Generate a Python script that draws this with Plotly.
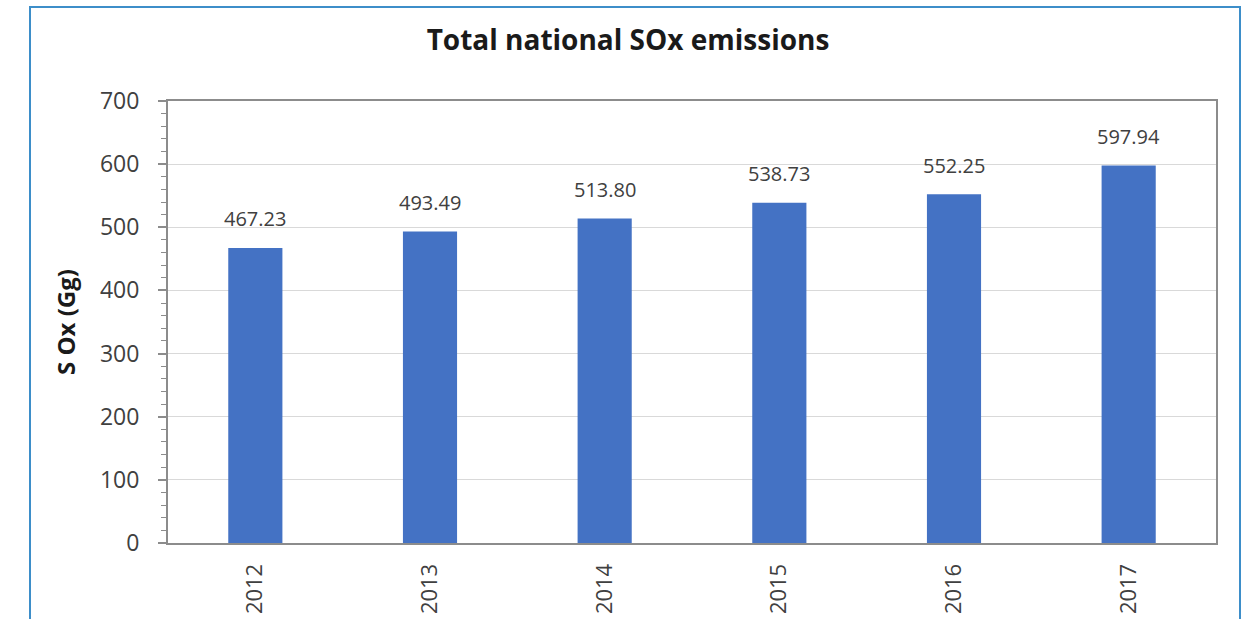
import plotly.graph_objects as go

# Annual totals of SOx emissions (Gg)
years = ["2012", "2013", "2014", "2015", "2016", "2017"]
sox_gg = [467.23, 493.49, 513.80, 538.73, 552.25, 597.94]
y_ticks = [0, 100, 200, 300, 400, 500, 600, 700]

text_color = "#404040"
sans = "Open Sans, Liberation Sans, sans-serif"

fig = go.Figure(
    go.Bar(
        x=years,
        y=sox_gg,
        width=0.31,
        marker=dict(color="#4472C4", line=dict(width=0)),
        hoverinfo="x+y",
    )
)

# value labels floating above each bar (category axis: position by index)
for i, v in enumerate(sox_gg):
    fig.add_annotation(
        x=i,
        y=v,
        text=f"{v:.2f}",
        showarrow=False,
        yanchor="middle",
        yshift=29,
        font=dict(family=sans, size=20, color=text_color),
    )

fig.update_layout(
    width=1256,
    height=619,
    margin=dict(l=168, r=40, t=101, b=76),
    paper_bgcolor="white",
    plot_bgcolor="white",
    showlegend=False,
    title=dict(
        text="<b>Total national SOx emissions</b>",
        x=(628 - 168) / 1048,
        xref="paper",
        xanchor="center",
        y=1 - 40 / 619,
        yanchor="middle",
        font=dict(family=sans, size=28, color="#1a1a1a"),
    ),
    xaxis=dict(
        type="category",
        range=[-0.5, len(years) - 0.5],
        automargin=False,
        tickangle=-90,
        tickfont=dict(family=sans, size=22, color=text_color),
        showline=True,
        linecolor="#8c8c8c",
        linewidth=2,
        mirror=True,
        ticks="",
        ticklabelstandoff=10,
        showgrid=False,
    ),
    yaxis=dict(
        automargin=False,
        range=[0, 700],
        tickvals=y_ticks,
        tickfont=dict(family=sans, size=23, color=text_color),
        showline=True,
        linecolor="#8c8c8c",
        linewidth=2,
        mirror=True,
        ticks="outside",
        ticklen=8,
        tickcolor="#8c8c8c",
        tickwidth=1.5,
        ticklabelstandoff=14,
        showgrid=True,
        gridcolor="#d9d9d9",
        gridwidth=1,
        minor=dict(
            dtick=20,
            ticks="outside",
            ticklen=5,
            tickcolor="#8c8c8c",
            tickwidth=1.2,
            showgrid=False,
        ),
        title=dict(
            text="<b>S Ox (Gg)</b>",
            font=dict(family=sans, size=24, color="#1a1a1a"),
            standoff=18,
        ),
        zeroline=False,
    ),
    shapes=[
        dict(
            type="rect",
            xref="paper",
            yref="paper",
            x0=(30 - 168) / 1048,
            x1=(1240 - 168) / 1048,
            y0=(543 - 640) / 442,
            y1=(543 - 7) / 442,
            line=dict(color="#3d8ec9", width=2),
            fillcolor="rgba(0,0,0,0)",
            layer="below",
        )
    ],
)

fig.write_html("out.html")
